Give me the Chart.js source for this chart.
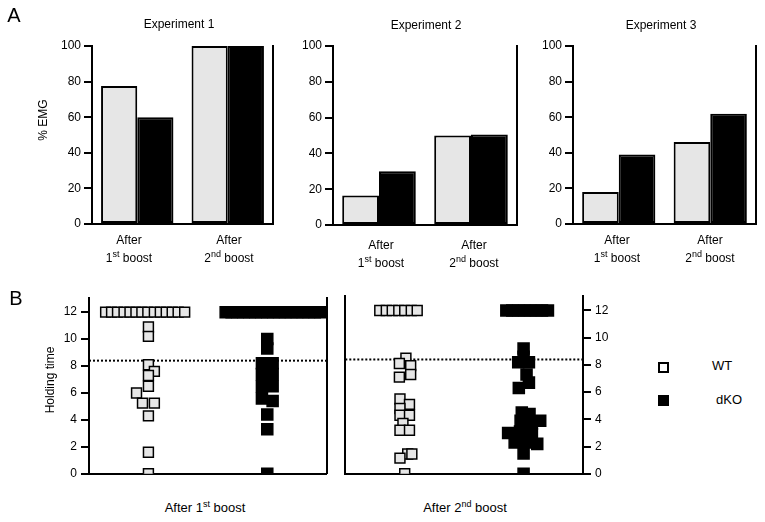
<!DOCTYPE html>
<html>
<head>
<meta charset="utf-8">
<script src="https://cdn.jsdelivr.net/npm/chart.js@4.4.1/dist/chart.umd.min.js"></script>
<style>
  body { margin: 0; background: #fff; }
  #fig { position: relative; width: 765px; height: 522px; overflow: hidden;
         font-family: "Liberation Sans", Arial, sans-serif; color: #000; }
  #fig canvas { position: absolute; }
  .t { position: absolute; white-space: nowrap; font-size: 12px; line-height: 14px;
       transform: translate(-50%, -50%); }
  .cat { text-align: center; line-height: 18px; }
  .rot { transform: translate(-50%, -50%) rotate(-90deg); }
  sup { font-size: 9px; line-height: 0; vertical-align: 5px; }
  .box { position: absolute; width: 11px; height: 11px; box-sizing: border-box; border: 2px solid #000; }
</style>
</head>
<body>
<div id="fig">
  <canvas id="a1" width="285" height="235" style="left:0;top:0"></canvas>
  <canvas id="a2" width="240" height="236" style="left:290px;top:0"></canvas>
  <canvas id="a3" width="230" height="235" style="left:535px;top:0"></canvas>
  <canvas id="b1" width="336" height="200" style="left:0;top:285px"></canvas>
  <canvas id="b2" width="280" height="200" style="left:336px;top:285px"></canvas>

  <div class="t" style="left:14px;top:15px;font-size:20px;line-height:20px">A</div>
  <div class="t" style="left:16px;top:298px;font-size:20px;line-height:20px">B</div>

  <div class="t" style="left:179px;top:24px">Experiment 1</div>
  <div class="t" style="left:426px;top:25px">Experiment 2</div>
  <div class="t" style="left:661px;top:25px">Experiment 3</div>

  <div class="t rot" style="left:43px;top:120px">% EMG</div>
  <div class="t rot" style="left:50px;top:380px">Holding time</div>

  <div class="t cat" style="left:129px;top:249px">After<br>1<sup>st</sup> boost</div>
  <div class="t cat" style="left:229px;top:249px">After<br>2<sup>nd</sup> boost</div>
  <div class="t cat" style="left:381px;top:254px">After<br>1<sup>st</sup> boost</div>
  <div class="t cat" style="left:474px;top:254px">After<br>2<sup>nd</sup> boost</div>
  <div class="t cat" style="left:617px;top:249px">After<br>1<sup>st</sup> boost</div>
  <div class="t cat" style="left:710px;top:249px">After<br>2<sup>nd</sup> boost</div>

  <div class="t" style="left:205px;top:508px;font-size:13px">After 1<sup>st</sup> boost</div>
  <div class="t" style="left:465px;top:508px;font-size:13px">After 2<sup>nd</sup> boost</div>

  <div class="box" style="left:658px;top:362px;background:#fff"></div>
  <div class="box" style="left:658px;top:395px;background:#000"></div>
  <div class="t" style="left:712px;top:366px;font-size:13px;transform:translateY(-50%)">WT</div>
  <div class="t" style="left:716px;top:400px;font-size:13px;transform:translateY(-50%)">dKO</div>
</div>

<script>
// panel A: % EMG per experiment
const categories = ["After 1st boost", "After 2nd boost"];
const exp1Wt = [77.5, 100];
const exp1Ko = [60, 100];
const exp2Wt = [16.5, 50];
const exp2Ko = [30, 50.5];
const exp3Wt = [18, 46];
const exp3Ko = [39, 62];

// panel B: holding time, [jitter x, value]; WT column at x=1, dKO at x=3
const cutoff = 8.4;
const b1Wt = [
  [0.28, 12], [0.38, 12], [0.48, 12], [0.59, 12], [0.69, 12], [0.79, 12], [0.89, 12],
  [0.99, 12], [1.10, 12], [1.20, 12], [1.30, 12], [1.40, 12], [1.50, 12], [1.61, 12],
  [1.0, 10.9], [1.0, 10.2], [1.0, 8.1], [1.1, 7.6], [1.0, 7.3], [1.0, 6.5], [0.8, 6.0],
  [0.9, 5.25], [1.1, 5.25], [1.0, 4.3], [1.0, 1.6], [1.0, 0]
];
const b1Ko = [
  [2.3, 12], [2.4, 12], [2.5, 12], [2.6, 12], [2.7, 12], [2.8, 12], [2.9, 12], [3.0, 12], [3.1, 12],
  [3.2, 12], [3.3, 12], [3.4, 12], [3.5, 12], [3.6, 12], [3.7, 12], [3.8, 12], [3.9, 12],
  [3.0, 10.0], [3.0, 9.3], [2.91, 8.2], [3.09, 8.2], [2.91, 7.4], [3.09, 7.4], [2.91, 6.5],
  [3.09, 6.5], [2.91, 5.6], [3.09, 5.4], [3.0, 4.4], [3.0, 3.3], [3.0, 0]
];
const b2Wt = [
  [0.58, 12], [0.69, 12], [0.79, 12], [0.90, 12], [1.00, 12], [1.11, 12], [1.21, 12],
  [1.02, 8.5], [0.91, 8.1], [1.1, 7.95], [1.1, 7.3], [0.91, 7.1], [0.92, 5.5], [1.08, 5.1],
  [0.92, 4.8], [0.92, 4.3], [1.08, 4.3], [0.97, 3.7], [0.92, 3.2], [1.08, 3.2],
  [1.05, 1.45], [1.12, 1.45], [0.92, 1.15], [1.0, 0]
];
const b2Ko = [
  [2.71, 12], [2.81, 12], [2.91, 12], [3.01, 12], [3.11, 12], [3.21, 12], [3.31, 12], [3.41, 12],
  [3.0, 9.2], [3.0, 8.6], [2.91, 8.2], [3.09, 8.2], [3.05, 7.3], [3.09, 6.7], [2.92, 6.3],
  [2.97, 4.5], [3.1, 4.4], [3.28, 3.9], [2.95, 3.9], [3.14, 3.7], [2.74, 3.0], [2.94, 3.1],
  [3.14, 2.9], [2.85, 2.3], [3.04, 2.3], [3.23, 2.2], [3.0, 1.5], [3.0, 0]
];

const wtFill = "#e6e6e6";
const tickFont = { family: "Liberation Sans", size: 12 };

function fixW(w) { return s => { s.width = w; }; }
function fixH(h) { return s => { s.height = h; }; }

function tickAxis(pos, min, max, step, w, pad) {
  return {
    position: pos, min: min, max: max, bounds: "data",
    ticks: { stepSize: step, includeBounds: false, color: "#000", font: tickFont, padding: pad },
    grid: { drawOnChartArea: false, color: "#000", lineWidth: 2, tickLength: 8 },
    border: { color: "#000", width: 2 },
    afterFit: fixW(w)
  };
}

function plainAxis(pos, min, max, w) {
  return {
    position: pos, min: min, max: max,
    ticks: { display: false },
    grid: { display: false },
    border: { color: "#000", width: 2 },
    afterFit: fixW(w)
  };
}

function barChart(id, wt, ko, yW, y2W, xH) {
  new Chart(document.getElementById(id), {
    type: "bar",
    data: {
      labels: categories,
      datasets: [
        { label: "WT", data: wt, yAxisID: "y", backgroundColor: wtFill, borderColor: "#000", borderWidth: 2, borderSkipped: false },
        { label: "dKO", data: ko, yAxisID: "y", backgroundColor: "#000", borderColor: "#000", borderWidth: 2, borderSkipped: false }
      ]
    },
    options: {
      responsive: false,
      animation: false,
      layout: { padding: { top: 46, left: 0, right: 0, bottom: 0 } },
      datasets: { bar: { barPercentage: 1, categoryPercentage: 0.8 } },
      plugins: { legend: { display: false }, tooltip: { enabled: false } },
      scales: {
        x: { grid: { display: false }, ticks: { display: false }, border: { color: "#000", width: 2 }, afterFit: fixH(xH) },
        y: tickAxis("left", 0, 100, 20, yW, 3),
        y2: plainAxis("right", 0, 100, y2W)
      }
    }
  });
}

function toPts(arr) { return arr.map(p => ({ x: p[0], y: p[1] })); }

function scatterChart(id, wt, ko, yl, yr, padTop, xH) {
  new Chart(document.getElementById(id), {
    type: "scatter",
    data: {
      datasets: [
        { label: "WT", data: toPts(wt), yAxisID: "y", pointStyle: "rect", pointRadius: 7,
          backgroundColor: wtFill, borderColor: "#000", borderWidth: 1.5 },
        { label: "dKO", data: toPts(ko), yAxisID: "y", pointStyle: "rect", pointRadius: 7.8,
          backgroundColor: "#000", borderColor: "#000", borderWidth: 1.5 },
        { type: "line", data: [{ x: 0, y: cutoff }, { x: 4, y: cutoff }], yAxisID: "y",
          borderColor: "#000", borderWidth: 2, borderDash: [2, 2], pointRadius: 0 }
      ]
    },
    options: {
      responsive: false,
      animation: false,
      layout: { padding: { top: padTop, left: 0, right: 0, bottom: 0 } },
      plugins: { legend: { display: false }, tooltip: { enabled: false } },
      scales: {
        x: { type: "linear", min: 0, max: 4, grid: { display: false }, ticks: { display: false },
             border: { color: "#000", width: 2 }, afterFit: fixH(xH) },
        y: yl,
        y2: yr
      }
    }
  });
}

barChart("a1", exp1Wt, exp1Ko, 92, 12, 11);
barChart("a2", exp2Wt, exp2Ko, 43, 13, 11);
barChart("a3", exp3Wt, exp3Ko, 38, 9, 11);

scatterChart("b1", b1Wt, b1Ko,
  tickAxis("left", 0, 13.05, 2, 89, 4),
  plainAxis("right", 0, 13.05, 6), 13, 7);
scatterChart("b2", b2Wt, b2Ko,
  tickAxis("right", 0, 13.05, 2, 33, 4),
  plainAxis("left", 0, 13.05, 6), 10, 10);
</script>
</body>
</html>
